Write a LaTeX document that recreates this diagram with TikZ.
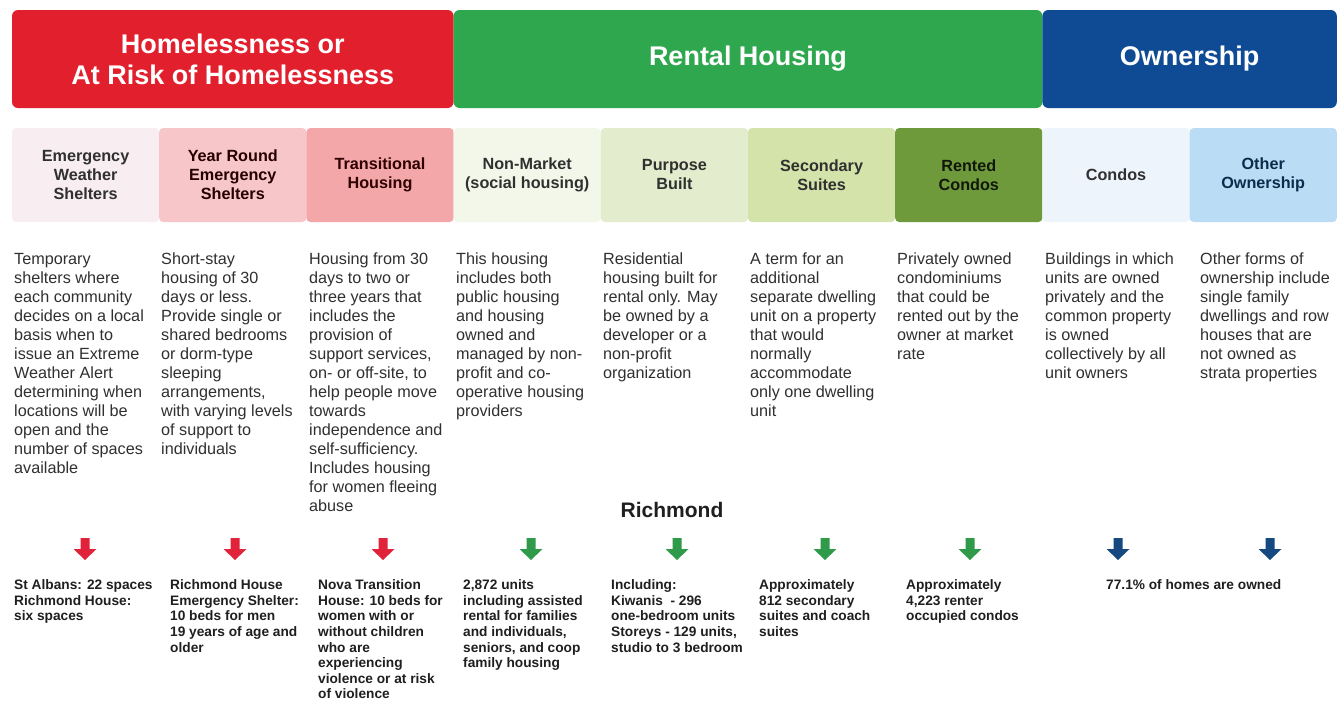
\documentclass[tikz,border=0pt]{standalone}
\usepackage{fontspec}
\setmainfont{Liberation Sans}
\definecolor{hred}{HTML}{E21F2D}
\definecolor{hgreen}{HTML}{2FA74E}
\definecolor{hblue}{HTML}{0F4B95}
\definecolor{ca}{HTML}{F8EEF1}
\definecolor{cb}{HTML}{F6C6C8}
\definecolor{cc}{HTML}{F4A7A8}
\definecolor{cd}{HTML}{F3F7EA}
\definecolor{ce}{HTML}{E3EDCD}
\definecolor{cf}{HTML}{D3E3AA}
\definecolor{cg}{HTML}{6F9A3B}
\definecolor{ch}{HTML}{EEF4FB}
\definecolor{ci}{HTML}{BADCF4}
\definecolor{ared}{HTML}{E0233A}
\definecolor{agreen}{HTML}{2E9A4A}
\definecolor{ablue}{HTML}{15497F}
\definecolor{txt}{HTML}{303030}
\begin{document}
\begin{tikzpicture}[x=1pt,y=-1pt,
  bar/.style={rounded corners=6pt, inner sep=0pt, minimum height=98pt,
    font=\bfseries\fontsize{27}{31}\selectfont, text=white, align=center},
  catbox/.style={rounded corners=4pt, inner sep=0pt, minimum width=147.2pt, minimum height=94pt,
    font=\bfseries\fontsize{16.2}{19}\selectfont, align=center, text=txt},
  desc/.style={anchor=north west, inner sep=0pt, font=\fontsize{16.2}{19}\selectfont,
    align=left, text=txt},
  stat/.style={anchor=north west, inner sep=0pt, font=\bfseries\fontsize{13.7}{15.6}\selectfont,
    align=left, text=black!88},
  darrow/.pic={\fill[pic actions] (-4.5,0) -- (4.5,0) -- (4.5,11) -- (11.5,11) -- (0,22)
     -- (-11.5,11) -- (-4.5,11) -- cycle;}
  ]
\useasboundingbox (0,0) rectangle (1344,702);
\fill[white] (0,0) rectangle (1344,702);
% header bars
\node[bar, fill=hred, minimum width=441.6pt] (b1) at (232.8,59) {Homelessness or\\At Risk of Homelessness};
\node[bar, fill=hgreen, minimum width=588.8pt] (b2) at (748,59) {Rental Housing};
\node[bar, fill=hblue, minimum width=294.4pt] (b3) at (1189.6,59) {Ownership};
% category boxes
\node[catbox, fill=ca] (c1) at (85.6,175) {Emergency\\Weather\\Shelters};
\node[catbox, fill=cb, text=black!75!red!60!black] (c2) at (232.8,175) {Year Round\\Emergency\\Shelters};
\node[catbox, fill=cc, text=black!70!red!60!black] (c3) at (380,175) {Transitional\\Housing};
\node[catbox, fill=cd] (c4) at (527.2,175) {Non-Market\\(social housing)};
\node[catbox, fill=ce] (c5) at (674.4,175) {Purpose\\Built};
\node[catbox, fill=cf] (c6) at (821.6,175) {Secondary\\Suites};
\node[catbox, fill=cg, text=black!70!cg!50!black] (c7) at (968.8,175) {Rented\\Condos};
\node[catbox, fill=ch] (c8) at (1116,175) {Condos};
\node[catbox, fill=ci, text=ablue!60!black] (c9) at (1263.2,175) {Other\\Ownership};
% descriptions
\node[desc] (d1) at (14,251) {\strut Temporary\\shelters where\\each community\\decides on a local\\basis when to\\issue an Extreme\\Weather Alert\\determining when\\locations will be\\open and the\\number of spaces\\available};
\node[desc] (d2) at (161,251) {\strut Short-stay\\housing of 30\\days or less.\\Provide single or\\shared bedrooms\\or dorm-type\\sleeping\\arrangements,\\with varying levels\\of support to\\individuals};
\node[desc] (d3) at (309,251) {\strut Housing from 30\\days to two or\\three years that\\includes the\\provision of\\support services,\\on- or off-site, to\\help people move\\towards\\independence and\\self-sufficiency.\\Includes housing\\for women fleeing\\abuse};
\node[desc] (d4) at (456,251) {\strut This housing\\includes both\\public housing\\and housing\\owned and\\managed by non-\\profit and co-\\operative housing\\providers};
\node[desc] (d5) at (603,251) {\strut Residential\\housing built for\\rental only. May\\be owned by a\\developer or a\\non-profit\\organization};
\node[desc] (d6) at (750,251) {\strut A term for an\\additional\\separate dwelling\\unit on a property\\that would\\normally\\accommodate\\only one dwelling\\unit};
\node[desc] (d7) at (897,251) {\strut Privately owned\\condominiums\\that could be\\rented out by the\\owner at market\\rate};
\node[desc] (d8) at (1045,251) {\strut Buildings in which\\units are owned\\privately and the\\common property\\is owned\\collectively by all\\unit owners};
\node[desc] (d9) at (1200,251) {\strut Other forms of\\ownership include\\single family\\dwellings and row\\houses that are\\not owned as\\strata properties};
% Richmond
\node[font=\bfseries\fontsize{21}{25}\selectfont, text=black!88] (rich) at (672,510) {Richmond};
% arrows
\pic[fill=ared] at (85,538) {darrow};
\pic[fill=ared] at (235,538) {darrow};
\pic[fill=ared] at (383,538) {darrow};
\pic[fill=agreen] at (531,538) {darrow};
\pic[fill=agreen] at (677,538) {darrow};
\pic[fill=agreen] at (825,538) {darrow};
\pic[fill=agreen] at (970,538) {darrow};
\pic[fill=ablue] at (1118,538) {darrow};
\pic[fill=ablue] at (1270,538) {darrow};
% statistics
\node[stat] (s1) at (14,578.5) {\strut St Albans: 22 spaces\\Richmond House:\\six spaces};
\node[stat] (s2) at (170,578.5) {\strut Richmond House\\Emergency Shelter:\\10 beds for men\\19 years of age and\\older};
\node[stat] (s3) at (318,578.5) {\strut Nova Transition\\House: 10 beds for\\women with or\\without children\\who are\\experiencing\\violence or at risk\\of violence};
\node[stat] (s4) at (463,578.5) {\strut 2,872 units\\including assisted\\rental for families\\and individuals,\\seniors, and coop\\family housing};
\node[stat] (s5) at (611,578.5) {\strut Including:\\Kiwanis\ \ - 296\\one-bedroom units\\Storeys - 129 units,\\studio to 3 bedroom};
\node[stat] (s6) at (759,578.5) {\strut Approximately\\812 secondary\\suites and coach\\suites};
\node[stat] (s7) at (906,578.5) {\strut Approximately\\4,223 renter\\occupied condos};
\node[stat] (s8) at (1106,578.5) {\strut 77.1\% of homes are owned};
\end{tikzpicture}
\end{document}
